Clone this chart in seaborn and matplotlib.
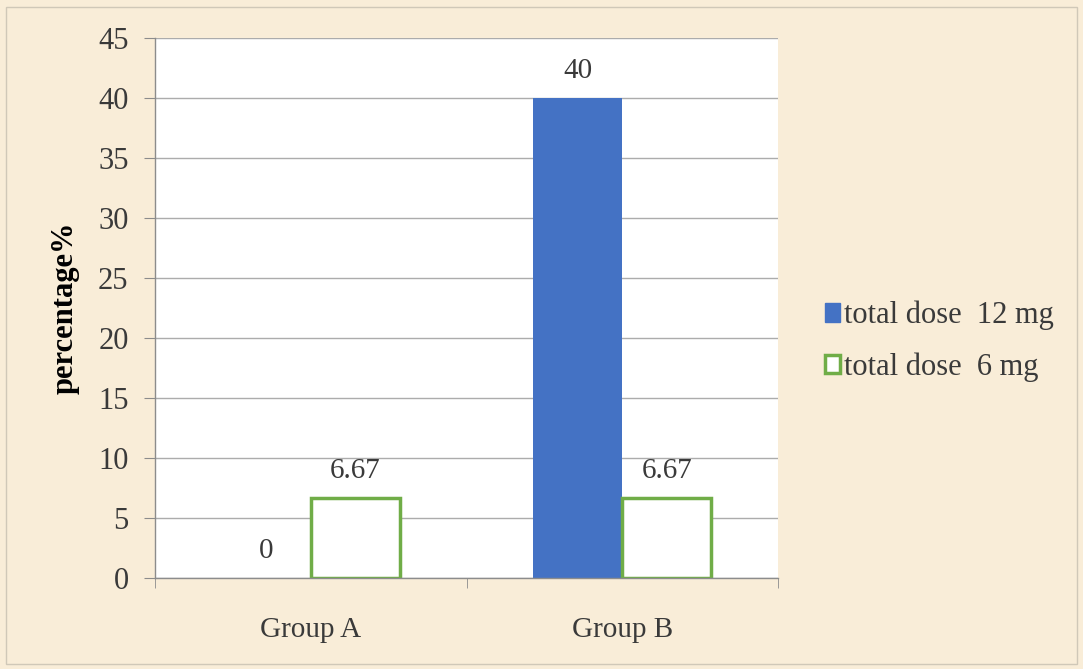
import matplotlib
matplotlib.use("Agg")
import matplotlib.pyplot as plt
from matplotlib.patches import Patch, Rectangle
import pandas as pd
import seaborn as sns

groups = ["Group A", "Group B"]
series = ["total dose  12 mg", "total dose  6 mg"]
dose_12 = [0, 40]
dose_6 = [6.67, 6.67]
value_labels = {series[0]: ["0", "40"], series[1]: ["6.67", "6.67"]}

df = pd.DataFrame({
    "group": groups * 2,
    "dose": [series[0]] * 2 + [series[1]] * 2,
    "pct": dose_12 + dose_6,
})

sns.set_style("white")
plt.rcParams["font.family"] = ["Liberation Serif", "DejaVu Serif"]

bg = "#f9edd8"
blue = "#4472c4"
green = "#70ad47"
txt = "#3a3a3a"

fig = plt.figure(figsize=(10.83, 6.69), dpi=100, facecolor=bg)
ax = fig.add_axes([0.1431, 0.136, 0.5753, 0.807])
ax.set_facecolor("white")

sns.barplot(data=df, x="group", y="pct", hue="dose", order=groups,
            hue_order=series, palette=[blue, "white"], width=0.57,
            saturation=1, legend=False, ax=ax)

# outline style for the 6 mg bars, no edge on the solid ones
for bar in ax.containers[1]:
    bar.set_edgecolor(green)
    bar.set_linewidth(2.5)
for bar in ax.containers[0]:
    bar.set_linewidth(0)

for cont, s in zip(ax.containers, series):
    ax.bar_label(cont, labels=value_labels[s], padding=10, fontsize=21, color=txt)

ax.set_ylim(0, 45)
ax.set_yticks(range(0, 46, 5))
ax.set_xlim(-0.5, 1.5)
ax.yaxis.grid(True, color="#acacac", linewidth=1)
ax.set_axisbelow(True)
for side in ["top", "right"]:
    ax.spines[side].set_visible(False)
for side in ["left", "bottom"]:
    ax.spines[side].set_color("#8c8c8c")
    ax.spines[side].set_linewidth(1)

ax.tick_params(axis="y", length=8, color="#8c8c8c", labelsize=22, pad=11,
               left=True, labelcolor=txt)
ax.set_xticks([0, 1])
ax.set_xticklabels(groups, fontsize=21, color=txt)
ax.tick_params(axis="x", length=0, pad=28)
ax.set_xticks([-0.5, 0.5, 1.5], minor=True)
ax.tick_params(axis="x", which="minor", length=7, color="#8c8c8c", bottom=True)

ax.set_xlabel("")
ax.set_ylabel("percentage%", fontsize=22, fontweight="bold", labelpad=13, color="black")

handles = [Patch(facecolor=blue, edgecolor=blue),
           Patch(facecolor="white", edgecolor=green, linewidth=2.5)]
fig.legend(handles, series, loc="center left", bbox_to_anchor=(0.736, 0.49),
           frameon=False, fontsize=22, handlelength=0.5, handleheight=0.55,
           handletextpad=0.15, labelspacing=0.72, labelcolor=txt)

fig.patches.append(Rectangle((0.006, 0.008), 0.988, 0.982, transform=fig.transFigure,
                             fill=False, edgecolor="#d0c8b8", linewidth=1))

fig.savefig("out.png", dpi=100, facecolor=bg)
